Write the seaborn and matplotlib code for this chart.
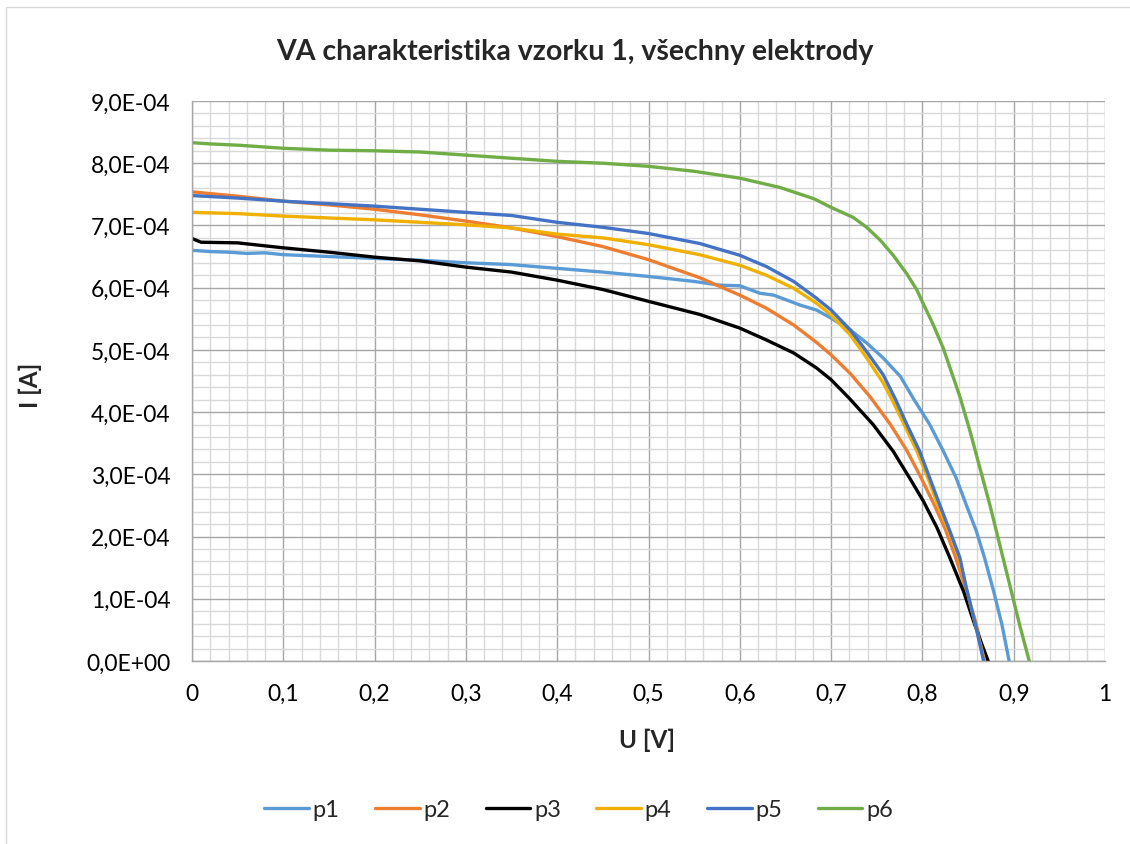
import matplotlib
matplotlib.use("Agg")
import matplotlib.pyplot as plt
import matplotlib.ticker as mticker
from matplotlib.patches import Rectangle
import pandas as pd
import seaborn as sns

# napeti U [V] a proud I [x1e-4 A] pro jednotlive elektrody
u_p1 = [0, 0.02, 0.04, 0.06, 0.08, 0.1, 0.15, 0.2, 0.25, 0.3, 0.35, 0.4, 0.45, 0.5, 0.55,
        0.578, 0.6, 0.622, 0.637, 0.666, 0.684, 0.7, 0.721, 0.739, 0.757, 0.776, 0.79,
        0.808, 0.823, 0.837, 0.848, 0.859, 0.868, 0.878, 0.887, 0.895]
i_p1 = [6.60, 6.58, 6.57, 6.55, 6.56, 6.53, 6.50, 6.47, 6.44, 6.40, 6.37, 6.31, 6.25, 6.18, 6.10,
        6.04, 6.03, 5.91, 5.88, 5.72, 5.64, 5.51, 5.32, 5.11, 4.87, 4.57, 4.22,
        3.80, 3.37, 2.94, 2.51, 2.09, 1.66, 1.12, 0.59, 0.0]

u_p2 = [0, 0.05, 0.1, 0.15, 0.2, 0.25, 0.3, 0.35, 0.4, 0.45, 0.5, 0.556, 0.6, 0.629, 0.659,
        0.684, 0.7, 0.721, 0.743, 0.765, 0.783, 0.797, 0.812, 0.825, 0.836, 0.847, 0.858, 0.869]
i_p2 = [7.54, 7.47, 7.39, 7.33, 7.26, 7.17, 7.07, 6.96, 6.82, 6.66, 6.45, 6.16, 5.88, 5.67, 5.40,
        5.12, 4.92, 4.62, 4.24, 3.80, 3.38, 2.99, 2.54, 2.12, 1.68, 1.18, 0.64, 0.0]

u_p3 = [0, 0.01, 0.05, 0.1, 0.15, 0.2, 0.25, 0.3, 0.35, 0.4, 0.45, 0.5, 0.556, 0.6, 0.629,
        0.659, 0.684, 0.7, 0.72, 0.746, 0.768, 0.786, 0.801, 0.816, 0.830, 0.845, 0.856,
        0.865, 0.872]
i_p3 = [6.79, 6.73, 6.72, 6.64, 6.57, 6.49, 6.43, 6.33, 6.25, 6.12, 5.97, 5.78, 5.57, 5.35, 5.16,
        4.95, 4.71, 4.52, 4.22, 3.80, 3.37, 2.94, 2.57, 2.14, 1.66, 1.12, 0.64,
        0.27, 0.0]

u_p4 = [0, 0.05, 0.1, 0.15, 0.2, 0.25, 0.3, 0.35, 0.4, 0.45, 0.5, 0.556, 0.6, 0.629, 0.659,
        0.684, 0.7, 0.721, 0.739, 0.757, 0.766, 0.780, 0.794, 0.806, 0.817, 0.829, 0.840,
        0.848, 0.858, 0.868]
i_p4 = [7.21, 7.19, 7.15, 7.12, 7.09, 7.05, 7.01, 6.96, 6.86, 6.80, 6.69, 6.53, 6.36, 6.20, 5.99,
        5.75, 5.56, 5.24, 4.87, 4.47, 4.22, 3.80, 3.37, 2.94, 2.51, 2.09, 1.66,
        1.18, 0.59, 0.0]

u_p5 = [0, 0.05, 0.1, 0.15, 0.2, 0.25, 0.3, 0.35, 0.4, 0.45, 0.5, 0.556, 0.6, 0.629, 0.659,
        0.684, 0.7, 0.721, 0.739, 0.757, 0.770, 0.783, 0.797, 0.808, 0.819, 0.830, 0.841,
        0.848, 0.858, 0.867]
i_p5 = [7.48, 7.44, 7.39, 7.35, 7.31, 7.26, 7.21, 7.16, 7.05, 6.97, 6.87, 6.71, 6.52, 6.34, 6.10,
        5.83, 5.64, 5.32, 4.97, 4.60, 4.22, 3.80, 3.37, 2.94, 2.51, 2.09, 1.66,
        1.18, 0.59, 0.0]

u_p6 = [0, 0.02, 0.05, 0.1, 0.15, 0.2, 0.25, 0.3, 0.35, 0.4, 0.45, 0.5, 0.55, 0.6, 0.644,
        0.681, 0.7, 0.724, 0.739, 0.754, 0.768, 0.783, 0.794, 0.8, 0.812, 0.823, 0.841,
        0.852, 0.863, 0.874, 0.885, 0.896, 0.907, 0.917]
i_p6 = [8.33, 8.31, 8.29, 8.24, 8.21, 8.20, 8.18, 8.13, 8.08, 8.03, 8.00, 7.95, 7.87, 7.76, 7.61,
        7.43, 7.29, 7.13, 6.97, 6.76, 6.52, 6.22, 5.96, 5.77, 5.40, 5.02, 4.25,
        3.70, 3.10, 2.50, 1.85, 1.20, 0.55, 0.0]

names = ["p1", "p2", "p3", "p4", "p5", "p6"]
colors = ["#5B9BD5", "#ED7D31", "#000000", "#F0B000", "#4472C4", "#70AD47"]

series = [(u_p1, i_p1), (u_p2, i_p2), (u_p3, i_p3), (u_p4, i_p4), (u_p5, i_p5), (u_p6, i_p6)]
rows = []
for name, (u, i) in zip(names, series):
    for uu, ii in zip(u, i):
        rows.append({"U": uu, "I": ii * 1e-4, "elektroda": name})
df = pd.DataFrame(rows)

sns.set_style("white")
plt.rcParams["font.family"] = ["Lato", "DejaVu Sans"]

fig = plt.figure(figsize=(11.3, 8.45), dpi=100)
ax = fig.add_axes([0.1699, 0.2166, 0.808, 0.6627])

sns.lineplot(data=df, x="U", y="I", hue="elektroda", palette=colors, sort=False,
             estimator=None, linewidth=2.4, ax=ax, legend=True)

ax.set_xlim(0, 1)
ax.set_ylim(0, 9e-4)
ax.xaxis.set_major_locator(mticker.MultipleLocator(0.1))
ax.xaxis.set_minor_locator(mticker.MultipleLocator(0.02))
ax.yaxis.set_major_locator(mticker.MultipleLocator(1e-4))
ax.yaxis.set_minor_locator(mticker.MultipleLocator(2e-5))
ax.xaxis.set_major_formatter(mticker.FuncFormatter(lambda v, p: f"{v:g}".replace(".", ",")))
ax.yaxis.set_major_formatter(mticker.FuncFormatter(lambda v, p: f"{v:.1E}".replace(".", ",")))

ax.grid(True, which="minor", color="#D9D9D9", linewidth=1.0)
ax.grid(True, which="major", color="#A6A6A6", linewidth=1.0)
ax.set_axisbelow(True)

for s in ["top", "right"]:
    ax.spines[s].set_visible(False)
for s in ["left", "bottom"]:
    ax.spines[s].set_color("#A6A6A6")
    ax.spines[s].set_linewidth(1.0)

ax.tick_params(which="both", direction="inout", color="#A6A6A6", length=9, width=1.0,
               labelsize=16.5, labelcolor="black")
ax.tick_params(axis="x", which="major", pad=11)
ax.tick_params(axis="y", which="major", pad=11)

ax.set_xlabel("")
ax.set_ylabel("")
fig.text(0.573, 0.124, "U [V]", ha="center", va="center", fontsize=17.5, fontweight="bold")
fig.text(0.027, 0.544, "I [A]", ha="center", va="center", fontsize=17.5, fontweight="bold",
         rotation=90)
fig.text(0.509, 0.938, "VA charakteristika vzorku 1, všechny elektrody", ha="center",
         va="center", fontsize=20.5, fontweight="bold")

handles, labels = ax.get_legend_handles_labels()
ax.legend_.remove()
fig.legend(handles, labels, loc="center", bbox_to_anchor=(0.512, 0.041), ncol=6,
           frameon=False, fontsize=17, handlelength=1.9, handletextpad=0.15,
           columnspacing=1.5)

fig.patches.append(Rectangle((6 / 1130, -0.01), 1.02, 1 - 8 / 845 + 0.01,
                             transform=fig.transFigure, fill=False,
                             edgecolor="#D9D9D9", linewidth=1.0))

fig.savefig("out.png", dpi=100)
